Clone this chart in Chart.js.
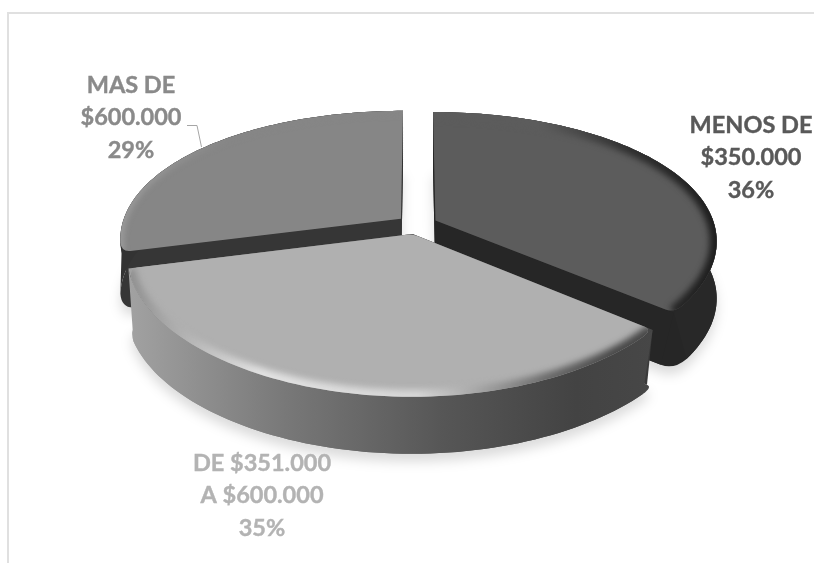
<!doctype html>
<html>
<head>
<meta charset="utf-8">
<title>Rangos de ingreso</title>
<script src="https://cdn.jsdelivr.net/npm/chart.js@4/dist/chart.umd.js"></script>
<style>
  body { margin: 0; background: #fff; }
  #frame { position: absolute; left: 7px; top: 12px; width: 807px; height: 551px;
           border-left: 2px solid #e0e0e0; border-top: 2px solid #e0e0e0; box-sizing: border-box; }
  canvas { position: absolute; left: 0; top: 0; }
</style>
</head>
<body>
<div id="frame"></div>
<canvas id="canvas" width="814" height="563"></canvas>
<script>
var categories = ['MENOS DE $350.000', 'DE $351.000 A $600.000', 'MAS DE $600.000'];
var values = [36, 35, 29];
var labelLines = [['MENOS DE', '$350.000'], ['DE $351.000', 'A $600.000'], ['MAS DE', '$600.000']];

// colours per slice: top face, cut face, text
var topColors = ['#5c5c5c', '#b0b0b0', '#868686'];
var cutColors = ['#262626', '#3a3a3a', '#363636'];
var textColors = ['#595959', '#b3b3b3', '#8a8a8a'];
var labelAnchors = [[751, 125], [262, 463], [131, 85]];
var lineGap = 32.5;

// projection of the flat pie on to the tilted plane
var view = { cx: 417, cy: 224.6, sx: 279, sy: 129.5, kx: 0.15, ky: 0.181, h: 57 };

function project(u, v, z) {
    var wx = 1 / (1 - view.kx * v), wy = 1 / (1 - view.ky * v);
    return [view.cx + view.sx * u * wx, view.cy + view.sy * v * wy + view.h * z];
}

// outline of one exploded slice, in projected points
function outline(el, z) {
    var mid = (el.startAngle + el.endAngle) / 2;
    var o = el.options.offset / 4 / el.outerRadius;
    var ox = Math.cos(mid) * o, oy = Math.sin(mid) * o;
    var pts = [];
    var n = 80;
    for (var i = 0; i <= n; i++) {
        var a = el.startAngle + (el.endAngle - el.startAngle) * i / n;
        pts.push(project(ox + Math.cos(a), oy + Math.sin(a), z));
    }
    return { arc: pts, apex: project(ox, oy, z) };
}

function trace(ctx, pts) {
    ctx.beginPath();
    ctx.moveTo(pts[0][0], pts[0][1]);
    for (var i = 1; i < pts.length; i++) ctx.lineTo(pts[i][0], pts[i][1]);
}

function along(a, b, r) {
    var d = Math.hypot(b[0] - a[0], b[1] - a[1]);
    return [a[0] + (b[0] - a[0]) * r / d, a[1] + (b[1] - a[1]) * r / d];
}

function cutIndex(list, r) {
    var i = 0, c = list[0];
    while (i < list.length - 1 && Math.hypot(list[i][0] - c[0], list[i][1] - c[1]) < r) i++;
    return i;
}

// traces a slice face with rounded corners: radii are apex, arc start, arc end
function traceFace(ctx, shape, radii) {
    var arc = shape.arc, last = arc.length - 1;
    var s = radii[1] ? cutIndex(arc, radii[1]) : 0;
    var e = radii[2] ? last - cutIndex(arc.slice().reverse(), radii[2]) : last;
    var inS = radii[1] ? along(arc[0], shape.apex, radii[1]) : arc[0];
    var inE = radii[2] ? along(arc[last], shape.apex, radii[2]) : arc[last];
    ctx.beginPath();
    ctx.moveTo(inS[0], inS[1]);
    if (radii[1]) ctx.quadraticCurveTo(arc[0][0], arc[0][1], arc[s][0], arc[s][1]);
    for (var i = s + 1; i <= e; i++) ctx.lineTo(arc[i][0], arc[i][1]);
    if (radii[2]) ctx.quadraticCurveTo(arc[last][0], arc[last][1], inE[0], inE[1]);
    if (radii[0]) {
        var a1 = along(shape.apex, inE, radii[0]), a2 = along(shape.apex, inS, radii[0]);
        ctx.lineTo(a1[0], a1[1]);
        ctx.quadraticCurveTo(shape.apex[0], shape.apex[1], a2[0], a2[1]);
    } else {
        ctx.lineTo(shape.apex[0], shape.apex[1]);
    }
    ctx.closePath();
}

function fillQuad(ctx, a, b, c, d, fill) {
    trace(ctx, [a, b, c, d]);
    ctx.closePath();
    ctx.fillStyle = fill;
    ctx.fill();
}

function wallFill(ctx, index) {
    if (index !== 1) return index === 0 ? '#282828' : '#333333';
    var g = ctx.createLinearGradient(128, 0, 655, 0);
    g.addColorStop(0, '#a2a2a2');
    g.addColorStop(0.3, '#787878');
    g.addColorStop(0.6, '#565656');
    g.addColorStop(0.85, '#434343');
    g.addColorStop(1, '#474747');
    return g;
}

function rimFill(ctx, index) {
    var g;
    if (index === 1) {
        g = ctx.createLinearGradient(128, 0, 655, 0);
        g.addColorStop(0, '#8f8f8f');
        g.addColorStop(0.25, '#e2e2e2');
        g.addColorStop(0.55, '#d6d6d6');
        g.addColorStop(0.8, '#6a6a6a');
        g.addColorStop(0.92, '#4a4a4a');
        g.addColorStop(1, '#484848');
    } else if (index === 0) {
        g = ctx.createLinearGradient(540, 0, 715, 0);
        g.addColorStop(0, '#5c5c5c');
        g.addColorStop(0.5, '#303030');
        g.addColorStop(1, '#1e1e1e');
    } else {
        g = ctx.createLinearGradient(122, 0, 230, 0);
        g.addColorStop(0, '#a4a4a4');
        g.addColorStop(1, '#868686');
    }
    return g;
}

// one slice: soft shadow, cut faces, outer wall, then the bevelled top
function drawSlice(ctx, el, index) {
    var top = outline(el, 0), low = outline(el, 1);
    var n = top.arc.length - 1;
    var topRadii = index === 1 ? [6, 9, 9] : index === 0 ? [0, 0, 9] : [0, 9, 0];
    var lowRadii = index === 1 ? [0, 6, 14] : index === 0 ? [0, 0, 14] : [0, 14, 0];
    var wall = wallFill(ctx, index);

    ctx.save();
    ctx.filter = 'blur(6px)';
    ctx.translate(0, 8);
    traceFace(ctx, low, lowRadii);
    ctx.fillStyle = 'rgba(0,0,0,0.14)';
    ctx.fill();
    ctx.restore();

    // the flat base and the two cut faces stop short of the rounded outer corners
    traceFace(ctx, low, lowRadii);
    ctx.fillStyle = index === 1 ? wall : cutColors[index];
    ctx.fill();
    fillQuad(ctx, top.apex, top.arc[0], along(low.arc[0], low.apex, lowRadii[1]), low.apex, cutColors[index]);
    fillQuad(ctx, top.apex, top.arc[n], along(low.arc[n], low.apex, lowRadii[2]), low.apex, cutColors[index]);

    // outer wall as a single band between the upper and lower arcs
    var s = lowRadii[1] ? cutIndex(low.arc, lowRadii[1]) : 0;
    var e = lowRadii[2] ? n - cutIndex(low.arc.slice().reverse(), lowRadii[2]) : n;
    trace(ctx, top.arc.concat(low.arc.slice(s, e + 1).reverse()));
    ctx.closePath();
    ctx.fillStyle = wall;
    ctx.fill();

    // wall colour under the top face so its rounded corners show the wall
    trace(ctx, top.arc.concat([top.apex]));
    ctx.closePath();
    ctx.fillStyle = wall;
    ctx.fill();

    ctx.save();
    traceFace(ctx, top, topRadii);
    ctx.fillStyle = topColors[index];
    ctx.fill();
    ctx.clip();
    // rim shading along the outer edge of the top face
    ctx.filter = 'blur(3px)';
    trace(ctx, top.arc);
    ctx.strokeStyle = rimFill(ctx, index);
    ctx.lineWidth = index === 2 ? 5 : 14;
    ctx.stroke();
    ctx.restore();
}

var pie3d = {
    id: 'pie3d',
    beforeDatasetDraw: function(chart, args) {
        var ctx = chart.ctx, arcs = args.meta.data;
        ctx.save();
        [2, 0, 1].forEach(function(i) { drawSlice(ctx, arcs[i], i); });
        ctx.restore();
        return false;
    },
    afterDraw: function(chart) {
        var ctx = chart.ctx, total = values.reduce(function(a, b) { return a + b; }, 0);
        ctx.save();
        ctx.font = 'bold 23.5px Lato';
        ctx.textAlign = 'center';
        ctx.textBaseline = 'middle';
        ctx.lineWidth = 0.4;
        categories.forEach(function(c, i) {
            var lines = labelLines[i].concat([Math.round(values[i] / total * 100) + '%']);
            ctx.fillStyle = textColors[i];
            ctx.strokeStyle = textColors[i];
            lines.forEach(function(t, j) {
                ctx.fillText(t, labelAnchors[i][0], labelAnchors[i][1] + j * lineGap);
                ctx.strokeText(t, labelAnchors[i][0], labelAnchors[i][1] + j * lineGap);
            });
        });
        // leader line of the upper left label
        ctx.strokeStyle = '#a6a6a6';
        ctx.lineWidth = 1;
        ctx.beginPath();
        ctx.moveTo(187, 125.5); ctx.lineTo(197, 125.5); ctx.lineTo(201.5, 147);
        ctx.stroke();
        ctx.restore();
    }
};

new Chart(document.getElementById('canvas'), {
    type: 'pie',
    data: {
        labels: categories,
        datasets: [{ data: values, backgroundColor: topColors, borderWidth: 0, offset: 72 }]
    },
    options: {
        responsive: false,
        animation: false,
        plugins: { legend: { display: false }, tooltip: { enabled: false } }
    },
    plugins: [pie3d]
});
</script>
</body>
</html>
